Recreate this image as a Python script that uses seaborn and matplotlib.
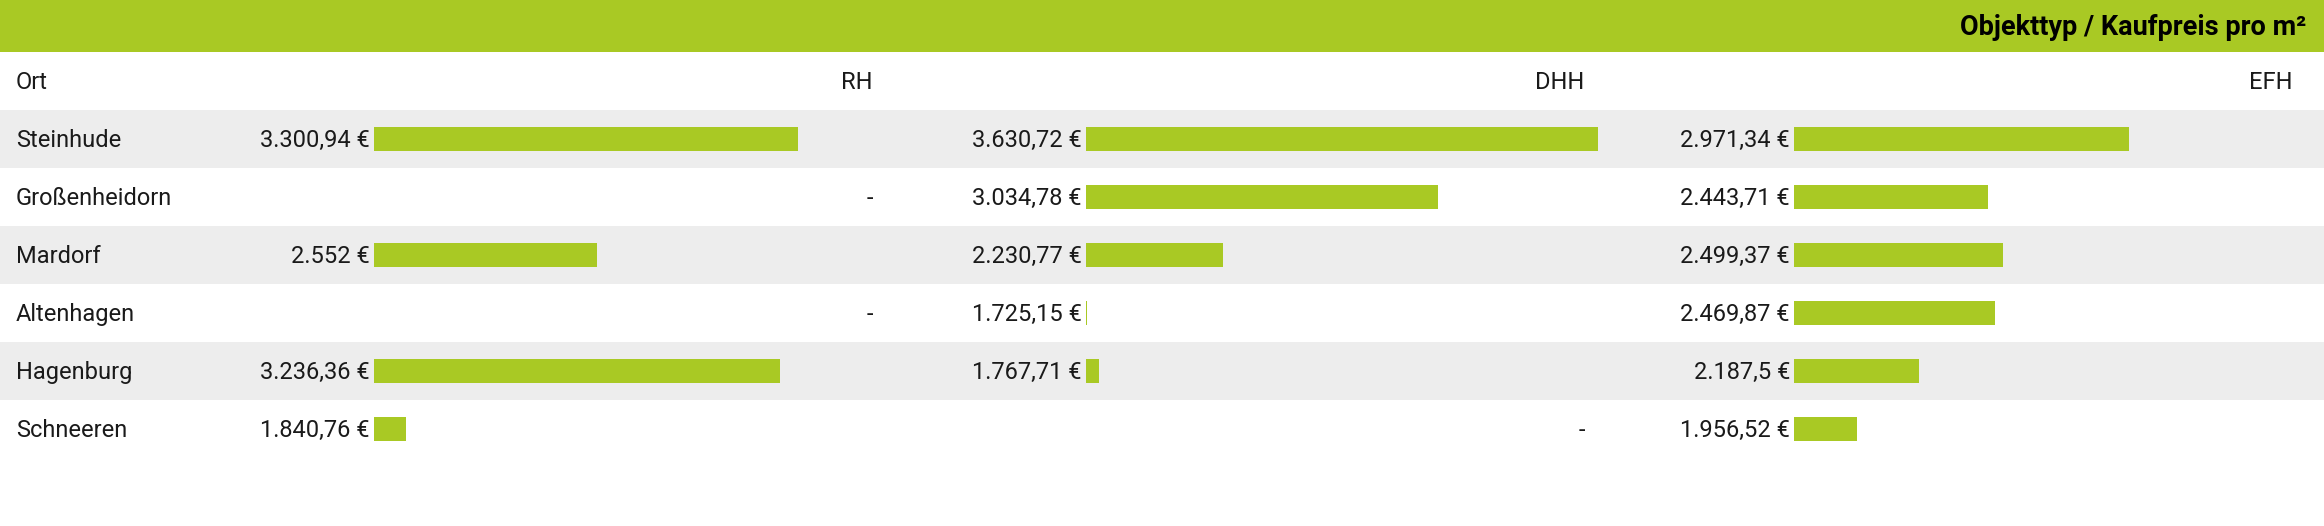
import numpy as np
import pandas as pd
import seaborn as sns
import matplotlib.pyplot as plt
import matplotlib.transforms as mtransforms

# data
orte = ['Steinhude', 'Großenheidorn', 'Mardorf', 'Altenhagen', 'Hagenburg', 'Schneeren']
typen = ['RH', 'DHH', 'EFH']
rh = [3300.94, np.nan, 2552.0, np.nan, 3236.36, 1840.76]
dhh = [3630.72, 3034.78, 2230.77, 1725.15, 1767.71, np.nan]
efh = [2971.34, 2443.71, 2499.37, 2469.87, 2187.5, 1956.52]
titel = 'Objekttyp / Kaufpreis pro m²'

df = pd.DataFrame({'Ort': orte, 'RH': rh, 'DHH': dhh, 'EFH': efh})
df_long = pd.melt(df, id_vars=['Ort'], var_name='Typ', value_name='Preis')

green = '#a9c924'
stripe = '#ededed'
txt = '#1a1a1a'

sns.set_style('white')
plt.rcParams['font.family'] = ['Roboto', 'DejaVu Sans']


def fmt(v):
    s = f'{v:,.2f}'.rstrip('0').rstrip('.')
    s = s.replace(',', 'X').replace('.', ',').replace('X', '.')
    return s + ' €'


W, H = 2324, 526
row_h, first_c = 58, 139
ylim = ((H - first_c) / row_h, -first_c / row_h)
fs = 17
base = 0.14

fig = plt.figure(figsize=(W / 100, H / 100), dpi=100)

# background: band, stripes, row labels
ax_bg = fig.add_axes([0, 0, 1, 1])
ax_bg.set_xlim(0, W)
ax_bg.set_ylim(*ylim)
ax_bg.axis('off')
ax_bg.axhspan(ylim[1], -1.5, color=green, lw=0)
for i, ort in enumerate(orte):
    if i % 2 == 0:
        ax_bg.axhspan(i - 0.5, i + 0.5, color=stripe, lw=0)
    ax_bg.text(16, i + base, ort, ha='left', va='baseline', fontsize=fs, color=txt)
ax_bg.text(16, -1 + base, 'Ort', ha='left', va='baseline', fontsize=fs, color=txt)
ax_bg.text(W - 18, -1.79, titel, ha='right', va='baseline', fontsize=19.5,
           fontweight='bold', color='black')

lo = np.nanmin(df_long['Preis']) * 0.997
hi = np.nanmax(df_long['Preis'])
bar_left = [374, 1086, 1794]
bar_w = 512

for typ, x0 in zip(typen, bar_left):
    ax = fig.add_axes([x0 / W, 0, bar_w / W, 1])
    ax.patch.set_alpha(0)
    sub = df_long[(df_long['Typ'] == typ) & df_long['Preis'].notna()]
    sns.barplot(data=sub, x='Preis', y='Ort', order=orte, color=green, saturation=1,
                width=0.41, orient='h', errorbar=None, linewidth=0, ax=ax)
    ax.set_xlim(lo, hi)
    ax.set_ylim(*ylim)
    ax.axis('off')
    tr = mtransforms.blended_transform_factory(ax.transAxes, ax.transData)
    ax.text(0.974, -1 + base, typ, transform=tr, ha='right', va='baseline',
            fontsize=fs, color=txt)
    vals = df.set_index('Ort')[typ]
    for i, ort in enumerate(orte):
        v = vals[ort]
        if np.isnan(v):
            ax.text(0.974, i + base, '-', transform=tr, ha='right', va='baseline',
                    fontsize=fs, color=txt)
        else:
            ax.text(-4 / bar_w, i + base, fmt(v), transform=tr, ha='right',
                    va='baseline', fontsize=fs, color=txt)

fig.savefig('out.png', dpi=100)
